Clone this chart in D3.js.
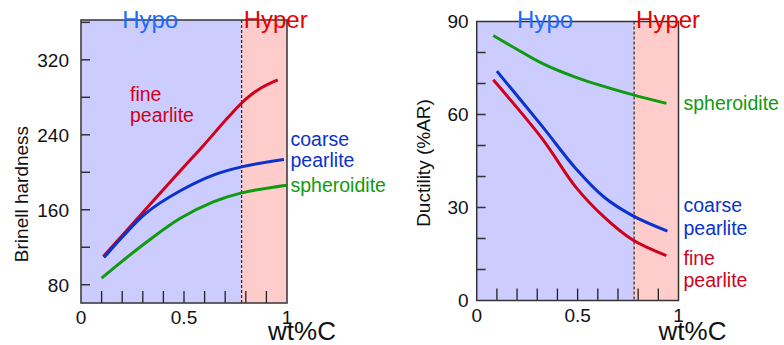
<!DOCTYPE html>
<html>
<head>
<meta charset="utf-8">
<script src="https://cdn.jsdelivr.net/npm/d3@7"></script>
<style>
  body { margin: 0; background: #fff; }
  text { font-family: Arial, "Liberation Sans", sans-serif; }
</style>
</head>
<body>
<div id="chart"></div>
<script>
// carbon content, wt%C
var eutectoid = 0.78;

// hardness panel data
var hardFineX = [0.108, 0.3, 0.48, 0.6, 0.72, 0.8, 0.87, 0.955];
var hardFineY = [110, 157, 201, 230, 260, 278, 289.5, 298.6];
var hardCoarseX = [0.112, 0.205, 0.319, 0.48, 0.642, 0.78, 0.985];
var hardCoarseY = [109, 132, 157, 180, 197, 205.8, 213.7];
var hardSpherX = [0.1, 0.205, 0.319, 0.48, 0.642, 0.78, 0.998];
var hardSpherY = [87, 106, 125.6, 150.6, 168.4, 178, 186.2];
var hardTicks = [80, 160, 240, 320];

// ductility panel data
var ductSpherX = [0.082, 0.195, 0.327, 0.492, 0.772, 0.94];
var ductSpherY = [85.5, 81.2, 76.4, 72, 66.4, 63.6];
var ductCoarseX = [0.1, 0.327, 0.492, 0.632, 0.772, 0.945];
var ductCoarseY = [74, 56, 42.5, 33.3, 27.4, 22.4];
var ductFineX = [0.082, 0.327, 0.492, 0.632, 0.772, 0.94];
var ductFineY = [71.2, 52, 36.5, 26.9, 19.6, 14.5];
var ductTicks = [0, 30, 60, 90];

var xTickLabels = [0, 0.5, 1];

var RED = "#d0021b", BLUE = "#0a32cc", GREEN = "#0f9a0f";

var svg = d3.select("#chart").append("svg")
    .attr("width", 784)
    .attr("height", 345);

function zip(xs, ys) {
    return xs.map(function (x, i) { return [x, ys[i]]; });
}

function panel(opt) {
    var x = d3.scaleLinear().domain([0, 1]).range([opt.left, opt.right]);
    var y = d3.scaleLinear().domain(opt.yDomain).range([opt.bottom, opt.top]);
    var g = svg.append("g");

    // hypo / hyper regions
    g.append("rect")
        .attr("x", x(0)).attr("y", opt.top)
        .attr("width", x(eutectoid) - x(0)).attr("height", opt.bottom - opt.top)
        .attr("fill", "#ccccff");
    g.append("rect")
        .attr("x", x(eutectoid)).attr("y", opt.top)
        .attr("width", x(1) - x(eutectoid)).attr("height", opt.bottom - opt.top)
        .attr("fill", "#ffcccc");

    // dashed eutectoid line
    g.append("line")
        .attr("x1", x(eutectoid)).attr("x2", x(eutectoid))
        .attr("y1", opt.top).attr("y2", opt.bottom)
        .attr("stroke", "#000").attr("stroke-width", 1)
        .attr("stroke-dasharray", "3,2");

    // y ticks (inward)
    g.selectAll(".yt").data(d3.range(opt.firstTick, opt.yDomain[1], opt.minorStep))
        .enter().append("line")
        .attr("x1", x(0)).attr("x2", x(0) + 9)
        .attr("y1", function (d) { return y(d); })
        .attr("y2", function (d) { return y(d); })
        .attr("stroke", "#333").attr("stroke-width", 1.5);

    // x ticks (inward)
    g.selectAll(".xt").data(d3.range(1, 10).map(function (i) { return i / 10; }))
        .enter().append("line")
        .attr("x1", function (d) { return x(d); })
        .attr("x2", function (d) { return x(d); })
        .attr("y1", opt.bottom).attr("y2", opt.bottom - 12)
        .attr("stroke", "#222").attr("stroke-width", 1.3);

    // frame
    g.append("rect")
        .attr("x", x(0)).attr("y", opt.top)
        .attr("width", x(1) - x(0)).attr("height", opt.bottom - opt.top)
        .attr("fill", "none").attr("stroke", "#333").attr("stroke-width", 1.5);

    // y labels
    g.selectAll(".yl").data(opt.yLabels).enter().append("text")
        .attr("x", x(0) - opt.yLabelGap)
        .attr("y", function (d) { return y(d); })
        .attr("dy", "0.36em")
        .attr("text-anchor", "end")
        .attr("font-size", 19)
        .attr("fill", "#111")
        .text(function (d) { return d; });

    // x labels
    g.selectAll(".xl").data(xTickLabels).enter().append("text")
        .attr("x", function (d) { return x(d); })
        .attr("y", opt.bottom + 21)
        .attr("text-anchor", "middle")
        .attr("font-size", 19)
        .attr("fill", "#111")
        .text(function (d) { return d; });

    g.append("text")
        .attr("x", x(1) + opt.wtOffset).attr("y", 340)
        .attr("text-anchor", "middle")
        .attr("font-size", 26)
        .attr("fill", "#111")
        .text("wt%C");

    // region names
    g.append("text")
        .attr("x", x(0.2)).attr("y", 28)
        .attr("font-size", 24)
        .attr("fill", "#1a6cff")
        .text("Hypo");
    g.append("text")
        .attr("x", x(eutectoid) + 2).attr("y", 28)
        .attr("font-size", 24)
        .attr("fill", "#e60000")
        .text("Hyper");

    // axis title
    g.append("text")
        .attr("transform", "translate(" + opt.titleX + "," + opt.titleY + ") rotate(-90)")
        .attr("text-anchor", "middle")
        .attr("font-size", 19)
        .attr("fill", "#111")
        .text(opt.title);

    var line = d3.line()
        .x(function (d) { return x(d[0]); })
        .y(function (d) { return y(d[1]); })
        .curve(d3.curveCatmullRom.alpha(0.5));

    opt.series.forEach(function (s) {
        g.append("path")
            .attr("d", line(zip(s.xs, s.ys)))
            .attr("fill", "none")
            .attr("stroke", s.color)
            .attr("stroke-width", 3);
        s.label.forEach(function (t, i) {
            g.append("text")
                .attr("x", s.lx).attr("y", s.ly + i * s.lh)
                .attr("font-size", 19.5)
                .attr("fill", s.color)
                .text(t);
        });
    });
}

panel({
    left: 81, right: 287, top: 20, bottom: 303,
    yDomain: [60.5, 362.5], firstTick: 80, minorStep: 40, yLabels: hardTicks, yLabelGap: 12,
    wtOffset: 15, titleX: 28, titleY: 194, title: "Brinell hardness",
    series: [
        {xs: hardFineX, ys: hardFineY, color: RED, label: ["fine", "pearlite"], lx: 130, ly: 101, lh: 21},
        {xs: hardCoarseX, ys: hardCoarseY, color: BLUE, label: ["coarse", "pearlite"], lx: 290.5, ly: 146, lh: 21},
        {xs: hardSpherX, ys: hardSpherY, color: GREEN, label: ["spheroidite"], lx: 290.5, ly: 192, lh: 21}
    ]
});

panel({
    left: 476.7, right: 678.5, top: 21.5, bottom: 300.5,
    yDomain: [0, 90], firstTick: 10, minorStep: 10, yLabels: ductTicks, yLabelGap: 8,
    wtOffset: 14, titleX: 430, titleY: 163, title: "Ductility (%AR)",
    series: [
        {xs: ductSpherX, ys: ductSpherY, color: GREEN, label: ["spheroidite"], lx: 683.5, ly: 109.5, lh: 22},
        {xs: ductCoarseX, ys: ductCoarseY, color: BLUE, label: ["coarse", "pearlite"], lx: 683.5, ly: 212, lh: 23},
        {xs: ductFineX, ys: ductFineY, color: RED, label: ["fine", "pearlite"], lx: 683.5, ly: 265, lh: 22}
    ]
});
</script>
</body>
</html>
